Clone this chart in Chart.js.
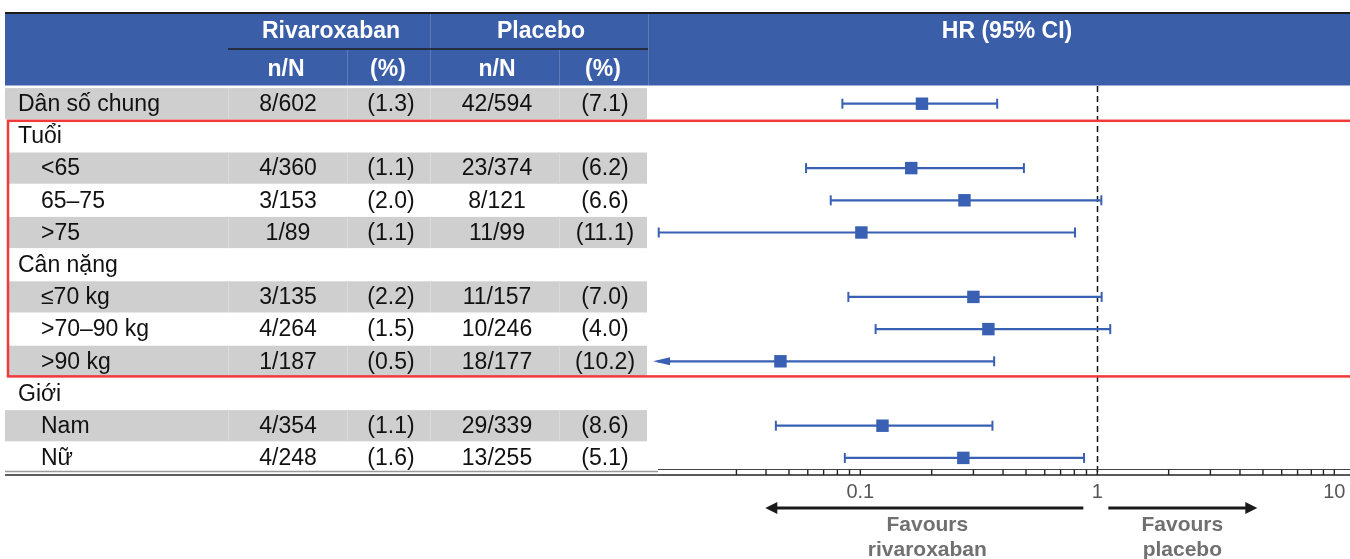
<!DOCTYPE html>
<html lang="vi">
<head>
<meta charset="utf-8">
<title>HR (95% CI) – Rivaroxaban vs Placebo</title>
<script src="https://cdn.jsdelivr.net/npm/chart.js@4.4.1/dist/chart.umd.min.js"></script>
<style>
  html, body { margin: 0; padding: 0; background: #ffffff; }
  #wrap { width: 1350px; height: 559px; position: relative; }
</style>
</head>
<body>
<div id="wrap"><canvas id="forest" width="1350" height="559"></canvas></div>
<script>
// ---- Data (rows top to bottom) ----
const rowLabels = ['Dân số chung', 'Tuổi', '<65', '65–75', '>75', 'Cân nặng', '≤70 kg', '>70–90 kg', '>90 kg', 'Giới', 'Nam', 'Nữ'];
const groupRows = [0, 1, 5, 9];
const rivaroxabanNN = ['8/602', '', '4/360', '3/153', '1/89', '', '3/135', '4/264', '1/187', '', '4/354', '4/248'];
const rivaroxabanPct = ['(1.3)', '', '(1.1)', '(2.0)', '(1.1)', '', '(2.2)', '(1.5)', '(0.5)', '', '(1.1)', '(1.6)'];
const placeboNN = ['42/594', '', '23/374', '8/121', '11/99', '', '11/157', '10/246', '18/177', '', '29/339', '13/255'];
const placeboPct = ['(7.1)', '', '(6.2)', '(6.6)', '(11.1)', '', '(7.0)', '(4.0)', '(10.2)', '', '(8.6)', '(5.1)'];
const hazardRatio = [0.182, null, 0.164, 0.275, 0.101, null, 0.300, 0.347, 0.046, null, 0.124, 0.272];
const ciLower = [0.084, null, 0.059, 0.075, 0.0141, null, 0.089, 0.116, 0.009, null, 0.044, 0.086];
const ciUpper = [0.378, null, 0.490, 1.040, 0.805, null, 1.043, 1.134, 0.367, null, 0.361, 0.879];
const hrTickValues = [0.1, 1, 10];
const hrRange = [0.014, 11.65];

// ---- Styling ----
const FONT = '"Liberation Sans", Arial, Helvetica, sans-serif';
const HEADER_BLUE = '#3b5ea8';
const MARK_BLUE = '#3a60b3';
const SHADE = '#cfcfcf';
const shadedRows = [0, 2, 4, 6, 8, 10];
const boxedRows = [1, 8];            // first and last row inside the red frame
const tableLeft = 5, tableRight = 647;
const colCenters = [288, 391, 497, 605];
const colSeparators = [228, 347, 430, 559];

function text(ctx, str, x, y, font, color, align) {
  ctx.font = font;
  ctx.fillStyle = color;
  ctx.textAlign = align || 'center';
  ctx.textBaseline = 'middle';
  ctx.fillText(str, x, y);
}

const forestTable = {
  id: 'forestTable',
  beforeDraw(chart) {
    const { ctx, scales: { y }, chartArea } = chart;
    ctx.save();
    ctx.fillStyle = '#ffffff';
    ctx.fillRect(0, 0, chart.width, chart.height);

    // header band
    const hTop = 13, hBot = 85.5, hMid = 49;
    ctx.fillStyle = HEADER_BLUE;
    ctx.fillRect(tableLeft, hTop, chart.width - tableLeft, hBot - hTop);
    ctx.strokeStyle = '#1b1b1b';
    ctx.lineWidth = 2;
    ctx.beginPath(); ctx.moveTo(tableLeft, hTop); ctx.lineTo(chart.width, hTop); ctx.stroke();

    // faint header dividers
    ctx.strokeStyle = 'rgba(255,255,255,0.18)';
    ctx.lineWidth = 1;
    [[430, hTop + 1], [648, hTop + 1], [347, hMid], [559, hMid]].forEach(([x0, y0]) => {
      ctx.beginPath(); ctx.moveTo(x0 + 0.5, y0); ctx.lineTo(x0 + 0.5, hBot); ctx.stroke();
    });
    ctx.strokeStyle = '#1e1e1e';
    ctx.lineWidth = 1.5;
    ctx.beginPath(); ctx.moveTo(228, hMid); ctx.lineTo(648, hMid); ctx.stroke();

    const hf = 'bold 23px ' + FONT;
    text(ctx, 'Rivaroxaban', 331, 32, hf, '#ffffff');
    text(ctx, 'Placebo', 541, 32, hf, '#ffffff');
    text(ctx, 'HR (95% CI)', 1007, 32, hf, '#ffffff');
    text(ctx, 'n/N', colCenters[0] - 2, 70, hf, '#ffffff');
    text(ctx, '(%)', colCenters[1] - 3, 70, hf, '#ffffff');
    text(ctx, 'n/N', colCenters[2], 70, hf, '#ffffff');
    text(ctx, '(%)', colCenters[3] - 2, 70, hf, '#ffffff');

    // shaded rows with faint column dividers
    const rowH = Math.abs(y.getPixelForValue(1) - y.getPixelForValue(0));
    shadedRows.forEach(i => {
      const cy = y.getPixelForValue(i);
      const inBox = i >= boxedRows[0] && i <= boxedRows[1];
      const left = inBox ? 9 : tableLeft;
      ctx.fillStyle = SHADE;
      ctx.fillRect(left, cy - rowH / 2 + 0.5, tableRight - left, rowH - 1);
      ctx.strokeStyle = '#dadada';
      ctx.lineWidth = 1;
      colSeparators.forEach(sx => {
        ctx.beginPath(); ctx.moveTo(sx + 0.5, cy - rowH / 2 + 0.5); ctx.lineTo(sx + 0.5, cy + rowH / 2 - 0.5); ctx.stroke();
      });
    });

    // row texts
    const bf = '23px ' + FONT;
    rowLabels.forEach((lab, i) => {
      const cy = y.getPixelForValue(i) + 1;
      const isGroup = groupRows.includes(i);
      text(ctx, lab, isGroup ? 18 : 41, cy, bf, '#111111', 'left');
      text(ctx, rivaroxabanNN[i], colCenters[0], cy, bf, '#111111');
      text(ctx, rivaroxabanPct[i], colCenters[1], cy, bf, '#111111');
      text(ctx, placeboNN[i], colCenters[2], cy, bf, '#111111');
      text(ctx, placeboPct[i], colCenters[3], cy, bf, '#111111');
    });

    // table bottom rule
    ctx.strokeStyle = '#9a9a9a';
    ctx.lineWidth = 1.5;
    ctx.beginPath(); ctx.moveTo(tableLeft, 471.5); ctx.lineTo(chartArea.left, 471.5); ctx.stroke();
    ctx.strokeStyle = '#2a2a2a';
    ctx.beginPath(); ctx.moveTo(tableLeft, 475); ctx.lineTo(chartArea.left, 475); ctx.stroke();
    ctx.restore();
  },

  beforeDatasetsDraw(chart) {
    const { ctx, scales: { x, y } } = chart;
    ctx.save();
    // reference line at HR = 1
    const x1 = Math.round(x.getPixelForValue(1)) + 0.5;
    ctx.strokeStyle = '#111111';
    ctx.lineWidth = 1.5;
    ctx.setLineDash([6, 4]);
    ctx.beginPath(); ctx.moveTo(x1, 86); ctx.lineTo(x1, 472); ctx.stroke();
    ctx.setLineDash([]);

    // confidence-interval whiskers
    ctx.strokeStyle = MARK_BLUE;
    ctx.fillStyle = MARK_BLUE;
    hazardRatio.forEach((hr, i) => {
      if (hr == null) return;
      const cy = y.getPixelForValue(i);
      const offLow = ciLower[i] < x.min;
      const xl = x.getPixelForValue(Math.max(ciLower[i], x.min));
      const xh = x.getPixelForValue(Math.min(ciUpper[i], x.max));
      ctx.lineWidth = 2.2;
      ctx.beginPath(); ctx.moveTo(xl, cy); ctx.lineTo(xh, cy); ctx.stroke();
      ctx.lineWidth = 2;
      if (offLow) {
        ctx.beginPath();
        ctx.moveTo(xl - 5, cy);
        ctx.lineTo(xl + 12, cy - 4);
        ctx.lineTo(xl + 12, cy + 4);
        ctx.closePath();
        ctx.fill();
      } else {
        ctx.beginPath(); ctx.moveTo(xl, cy - 5); ctx.lineTo(xl, cy + 5); ctx.stroke();
      }
      ctx.beginPath(); ctx.moveTo(xh, cy - 5); ctx.lineTo(xh, cy + 5); ctx.stroke();
    });
    ctx.restore();
  },

  afterDatasetsDraw(chart) {
    const { ctx, scales: { x, y }, chartArea } = chart;
    ctx.save();
    // highlighted subgroup block (age and weight)
    const rowH = Math.abs(y.getPixelForValue(1) - y.getPixelForValue(0));
    const boxTop = y.getPixelForValue(boxedRows[0]) - rowH / 2;
    const boxBot = y.getPixelForValue(boxedRows[1]) + rowH / 2;
    ctx.strokeStyle = '#f03a3a';
    ctx.lineWidth = 2.5;
    ctx.strokeRect(8, boxTop + 1, chart.width + 10, boxBot - boxTop - 2);

    // log axis drawn as a double rule with tick marks
    const aTop = 469.5, aBot = 475;
    ctx.strokeStyle = '#444444';
    ctx.lineWidth = 1;
    ctx.beginPath(); ctx.moveTo(chartArea.left, aTop); ctx.lineTo(chartArea.right, aTop); ctx.stroke();
    ctx.strokeStyle = '#222222';
    ctx.lineWidth = 1.5;
    ctx.beginPath(); ctx.moveTo(chartArea.left, aBot); ctx.lineTo(chartArea.right, aBot); ctx.stroke();
    ctx.lineWidth = 1.4;
    [0.01, 0.1, 1, 10].forEach(dec => {
      for (let k = 1; k <= 9; k++) {
        const v = k * dec;
        if (v < 0.029 || v > x.max) continue;
        const px = x.getPixelForValue(v);
        ctx.beginPath(); ctx.moveTo(px, aTop); ctx.lineTo(px, aBot); ctx.stroke();
      }
    });
    hrTickValues.forEach(v => {
      text(ctx, String(v), x.getPixelForValue(v), 492, '20px ' + FONT, '#575757');
    });

    // direction arrows
    const x1 = x.getPixelForValue(1);
    const ay = 508;
    ctx.strokeStyle = '#1a1a1a';
    ctx.fillStyle = '#1a1a1a';
    ctx.lineWidth = 3;
    const arrow = (from, to) => {
      const dir = Math.sign(to - from);
      ctx.beginPath(); ctx.moveTo(from, ay); ctx.lineTo(to - dir * 10, ay); ctx.stroke();
      ctx.beginPath();
      ctx.moveTo(to, ay);
      ctx.lineTo(to - dir * 12, ay - 6);
      ctx.lineTo(to - dir * 12, ay + 6);
      ctx.closePath();
      ctx.fill();
    };
    arrow(x1 - 14, x1 - 332);
    arrow(x1 + 11, x1 + 160);
    const ff = 'bold 21px ' + FONT;
    text(ctx, 'Favours', x1 - 170, 525, ff, '#707070');
    text(ctx, 'rivaroxaban', x1 - 170, 550, ff, '#707070');
    text(ctx, 'Favours', x1 + 85, 525, ff, '#707070');
    text(ctx, 'placebo', x1 + 85, 550, ff, '#707070');
    ctx.restore();
  }
};

const points = [];
hazardRatio.forEach((hr, i) => { if (hr != null) points.push({ x: hr, y: i }); });

new Chart(document.getElementById('forest'), {
  type: 'scatter',
  data: {
    datasets: [{
      label: 'HR',
      data: points,
      pointStyle: 'rect',
      pointRadius: 8.8,
      pointHoverRadius: 8.8,
      backgroundColor: MARK_BLUE,
      borderColor: MARK_BLUE,
      borderWidth: 0,
      clip: false
    }]
  },
  options: {
    responsive: false,
    animation: false,
    events: [],
    layout: { autoPadding: false, padding: { left: 658, right: 0, top: 87.6, bottom: 85 } },
    plugins: { legend: { display: false }, tooltip: { enabled: false } },
    scales: {
      x: { type: 'logarithmic', min: hrRange[0], max: hrRange[1], display: false },
      y: { type: 'linear', min: -0.5, max: rowLabels.length - 0.5, reverse: true, display: false }
    }
  },
  plugins: [forestTable]
});
</script>
</body>
</html>
